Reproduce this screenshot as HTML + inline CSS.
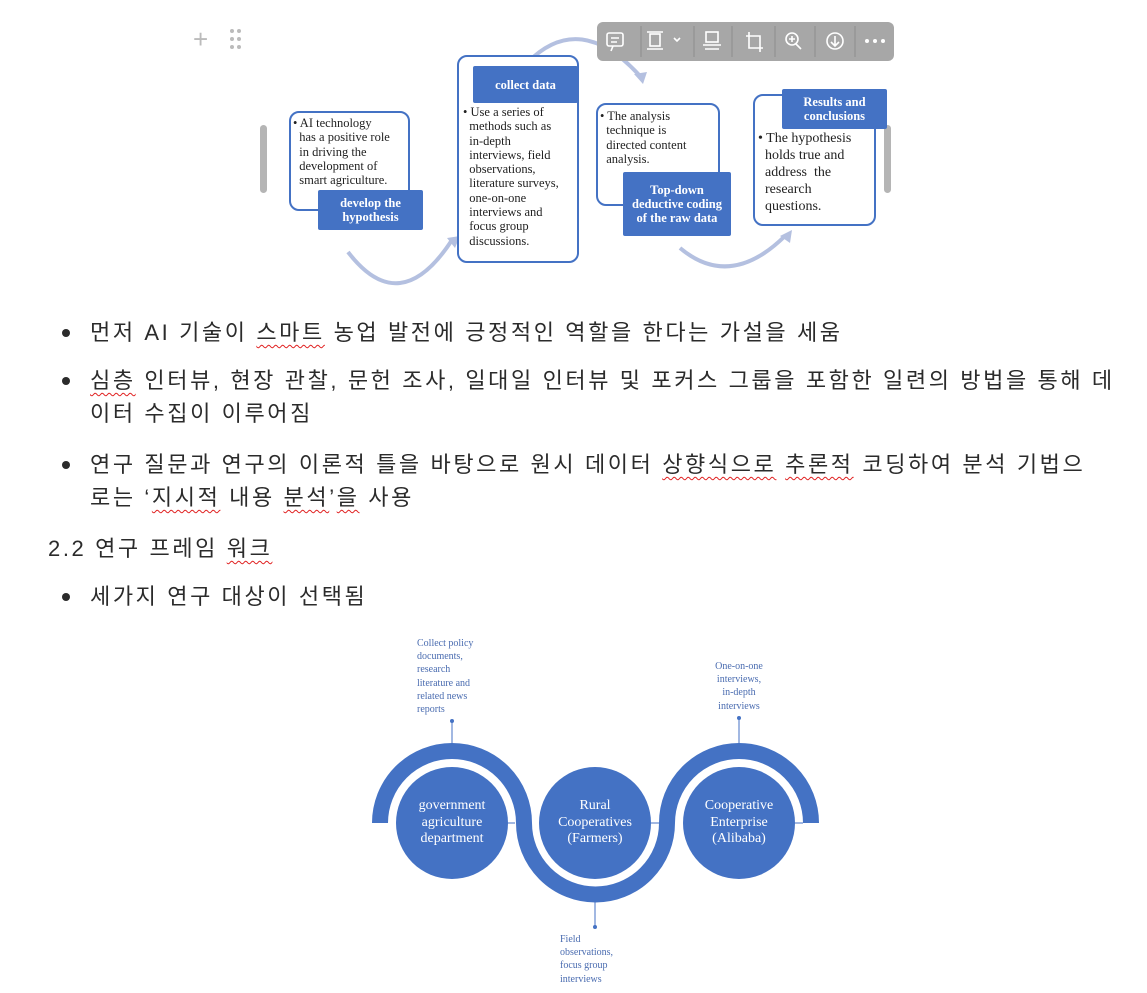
<!DOCTYPE html>
<html><head><meta charset="utf-8">
<style>
html,body{margin:0;padding:0;background:#fff;}
body{width:1147px;height:993px;position:relative;overflow:hidden;font-family:"Liberation Sans","Noto Sans CJK KR",sans-serif;}
.t{position:absolute;white-space:nowrap;font-size:22px;letter-spacing:2.6px;color:#2b2b2b;line-height:26px;}
.b{position:absolute;width:8px;height:8px;border-radius:50%;background:#2b2b2b;}
.sq{text-decoration:underline wavy #e02020;text-decoration-thickness:1px;text-underline-offset:4px;}
.box{position:absolute;border:2.5px solid #4472c4;border-radius:10px;background:#fff;box-sizing:border-box;}
.hd{position:absolute;background:#4472c4;color:#fff;font-family:"Liberation Serif",serif;font-weight:bold;font-size:12.5px;text-align:center;line-height:14px;display:flex;align-items:center;justify-content:center;border-radius:2px;}
.bt{position:absolute;font-family:"Liberation Serif",serif;font-size:12.5px;line-height:14.3px;color:#222;white-space:nowrap;}
.lab{position:absolute;font-family:"Liberation Serif",serif;font-size:10px;line-height:13.2px;color:#4a6cb0;white-space:nowrap;}
.cl{position:absolute;font-family:"Liberation Serif",serif;font-size:14px;line-height:16.5px;color:#fff;text-align:center;white-space:nowrap;}
</style></head><body>

<div style="position:absolute;left:193px;top:27px;font-size:26px;color:#bbb;line-height:24px;">+</div>
<svg style="position:absolute;left:228px;top:28px" width="16" height="22"><g fill="#bbb"><circle cx="4" cy="3" r="2"/><circle cx="11" cy="3" r="2"/><circle cx="4" cy="11" r="2"/><circle cx="11" cy="11" r="2"/><circle cx="4" cy="19" r="2"/><circle cx="11" cy="19" r="2"/></g></svg>

<div style="position:absolute;left:260px;top:125px;width:7px;height:68px;border-radius:4px;background:#b5b5b5"></div>
<div style="position:absolute;left:884px;top:125px;width:7px;height:68px;border-radius:4px;background:#b5b5b5"></div>

<svg style="position:absolute;left:0;top:0" width="1147" height="300">
<g fill="none" stroke="#b4c0e0" stroke-width="4">
<path d="M348 252 Q400 320 452 240"/>
<path d="M528 62 Q580 10 640 76"/>
<path d="M680 248 Q730 290 785 236"/>
</g>
<g fill="#b4c0e0">
<polygon points="447,238 460,236 455,248"/>
<polygon points="634,74 647,72 643,84"/>
<polygon points="780,236 792,230 790,243"/>
</g>
</svg>

<div class="box" style="left:289px;top:111px;width:121px;height:100px"></div>
<div class="bt" style="left:293px;top:116px">• AI technology<br>&nbsp;&nbsp;has a positive role<br>&nbsp;&nbsp;in driving the<br>&nbsp;&nbsp;development of<br>&nbsp;&nbsp;smart agriculture.</div>
<div class="hd" style="left:318px;top:190px;width:105px;height:40px">develop the<br>hypothesis</div>

<div class="box" style="left:457px;top:55px;width:122px;height:208px"></div>
<div class="hd" style="left:473px;top:66px;width:105px;height:37px">collect data</div>
<div class="bt" style="left:463px;top:105px">• Use a series of<br>&nbsp;&nbsp;methods such as<br>&nbsp;&nbsp;in-depth<br>&nbsp;&nbsp;interviews, field<br>&nbsp;&nbsp;observations,<br>&nbsp;&nbsp;literature surveys,<br>&nbsp;&nbsp;one-on-one<br>&nbsp;&nbsp;interviews and<br>&nbsp;&nbsp;focus group<br>&nbsp;&nbsp;discussions.</div>

<div class="box" style="left:596px;top:103px;width:124px;height:103px"></div>
<div class="bt" style="left:600px;top:109px">• The analysis<br>&nbsp;&nbsp;technique is<br>&nbsp;&nbsp;directed content<br>&nbsp;&nbsp;analysis.</div>
<div class="hd" style="left:623px;top:172px;width:108px;height:64px">Top-down<br>deductive coding<br>of the raw data</div>

<div class="box" style="left:753px;top:94px;width:123px;height:132px"></div>
<div class="hd" style="left:782px;top:89px;width:105px;height:40px">Results and<br>conclusions</div>
<div class="bt" style="left:758px;top:130px;font-size:14px;line-height:17px">• The hypothesis<br>&nbsp;&nbsp;holds true and<br>&nbsp;&nbsp;address&nbsp; the<br>&nbsp;&nbsp;research<br>&nbsp;&nbsp;questions.</div>

<div style="position:absolute;left:597px;top:22px;width:297px;height:39px;border-radius:6px;background:#a7a7a7"></div>
<svg style="position:absolute;left:597px;top:22px" width="297" height="39">
<g fill="none" stroke="#fff" stroke-width="1.6">
<rect x="10" y="11" width="16" height="13" rx="2"/><path d="M14 29 l2 -5"/><path d="M14 16h8M14 20h6"/>
<rect x="53" y="12" width="10" height="12"/><path d="M50 10h16M50 27h16"/><path d="M77 16l3 3 3-3"/>
<rect x="109" y="10" width="12" height="10"/><path d="M106 23h18M108 27h14"/>
<path d="M152 10v16h14M149 14h14v16"/>
<circle cx="195" cy="17" r="6"/><path d="M199 22l5 5M192 17h6M195 14v6"/>
<circle cx="238" cy="19" r="8"/><path d="M238 14v9M234 20l4 4 4-4"/>
</g>
<g stroke="#8c8c8c" stroke-width="1"><path d="M44 4v31M97 4v31M135 4v31M178 4v31M218 4v31M258 4v31"/></g>
<g fill="#fff"><circle cx="270" cy="19" r="2"/><circle cx="278" cy="19" r="2"/><circle cx="286" cy="19" r="2"/></g>
</svg>

<div class="b" style="left:62px;top:329px"></div>
<div class="t" style="left:90px;top:320px">먼저 AI 기술이 <span class="sq">스마트</span> 농업 발전에 긍정적인 역할을 한다는 가설을 세움</div>
<div class="b" style="left:62px;top:377px"></div>
<div class="t" style="left:90px;top:368px"><span class="sq">심층</span> 인터뷰, 현장 관찰, 문헌 조사, 일대일 인터뷰 및 포커스 그룹을 포함한 일련의 방법을 통해 데</div>
<div class="t" style="left:90px;top:401px">이터 수집이 이루어짐</div>
<div class="b" style="left:62px;top:461px"></div>
<div class="t" style="left:90px;top:452px">연구 질문과 연구의 이론적 틀을 바탕으로 원시 데이터 <span class="sq">상향식으로</span> <span class="sq">추론적</span> 코딩하여 분석 기법으</div>
<div class="t" style="left:90px;top:485px">로는 ‘<span class="sq">지시적</span> 내용 <span class="sq">분석</span>’<span class="sq">을</span> 사용</div>
<div class="t" style="left:48px;top:536px">2.2 연구 프레임 <span class="sq">워크</span></div>
<div class="b" style="left:62px;top:593px"></div>
<div class="t" style="left:90px;top:584px">세가지 연구 대상이 선택됨</div>

<svg style="position:absolute;left:0;top:0" width="1147" height="993">
<g fill="none" stroke="#4472c4" stroke-width="16">
<path d="M380 823 A72 72 0 0 1 524 823"/>
<path d="M524 823 A71 71 0 0 0 667 823"/>
<path d="M667 823 A72 72 0 0 1 811 823"/>
</g>
<g fill="#4472c4">
<circle cx="452" cy="823" r="56"/>
<circle cx="595" cy="823" r="56"/>
<circle cx="739" cy="823" r="56"/>
<circle cx="452" cy="721" r="2"/>
<circle cx="739" cy="718" r="2"/>
<circle cx="595" cy="927" r="2"/>
</g>
<g stroke="#4472c4" stroke-width="1">
<path d="M452 721v24M739 718v27M595 900v27M508 823h7M651 823h16M795 823h8"/>
</g>
</svg>
<div class="cl" style="left:396px;top:798px;width:112px">government<br>agriculture<br>department</div>
<div class="cl" style="left:539px;top:798px;width:112px">Rural<br>Cooperatives<br>(Farmers)</div>
<div class="cl" style="left:683px;top:798px;width:112px">Cooperative<br>Enterprise<br>(Alibaba)</div>
<div class="lab" style="left:417px;top:637px">Collect policy<br>documents,<br>research<br>literature and<br>related news<br>reports</div>
<div class="lab" style="left:700px;top:660px;width:78px;text-align:center">One-on-one<br>interviews,<br>in-depth<br>interviews</div>
<div class="lab" style="left:560px;top:933px">Field<br>observations,<br>focus group<br>interviews</div>

</body></html>
